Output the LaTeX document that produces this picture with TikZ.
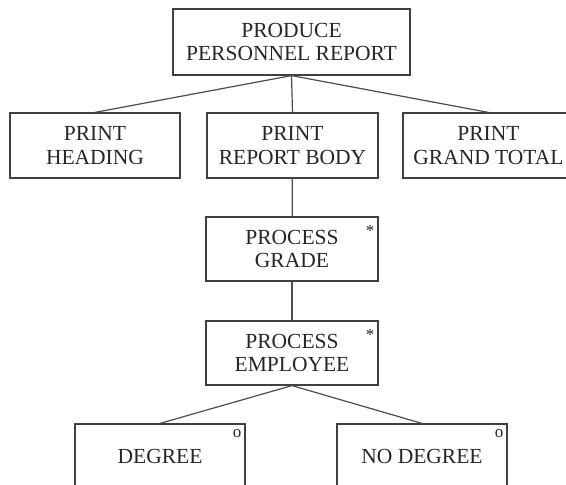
\documentclass[tikz,border=0pt]{standalone}
\usepackage{fontspec}
\setmainfont{Liberation Serif}
\usetikzlibrary{positioning}

\tikzset{
    box/.style={rectangle, draw=black!75, line width=1.2pt, text=black!85,
        minimum width=171pt, minimum height=65pt, inner sep=0pt, align=center,
        font=\fontsize{21.5}{23.5}\selectfont},
    link/.style={draw=black!70, line width=1.2pt},
    corner/.style={inner sep=0pt, text=black!85, font=\fontsize{17}{17}\selectfont}
}

\begin{document}
\begin{tikzpicture}[x=1pt, y=-1pt]
    \useasboundingbox (0,0) rectangle (566,485);

    \node[box, minimum width=237pt, minimum height=66pt] (produce) at (291.5,42) {PRODUCE\\PERSONNEL REPORT};
    \node[box, minimum width=170pt] (heading) at (95,145.5) {PRINT\\HEADING};
    \node[box] (body) at (292.5,145.5) {PRINT\\REPORT BODY};
    \node[box] (total) at (488.5,145.5) {PRINT\\GRAND TOTAL};
    \node[box, minimum width=172pt, minimum height=64pt] (grade) at (292,249) {PROCESS\\GRADE};
    \node[box, minimum width=172pt, minimum height=64pt] (employee) at (292,353) {PROCESS\\EMPLOYEE};
    \node[box, minimum width=170pt] (degree) at (160,456.5) {DEGREE};
    \node[box, minimum width=170pt] (nodegree) at (422,456.5) {NO DEGREE};

    \node[corner] (gradestar) at (370,231) {*};
    \node[corner] (employeestar) at (370,335) {*};
    \node[corner] (degreeo) at (237,434) {o};
    \node[corner] (nodegreeo) at (499,434) {o};

    \draw[link] (produce.south) -- (heading.north);
    \draw[link] (produce.south) -- (body.north);
    \draw[link] (produce.south) -- (total.north);
    \draw[link] (body) -- (grade);
    \draw[link] (grade) -- (employee);
    \draw[link] (employee.south) -- (degree.north);
    \draw[link] (employee.south) -- (nodegree.north);
\end{tikzpicture}
\end{document}
